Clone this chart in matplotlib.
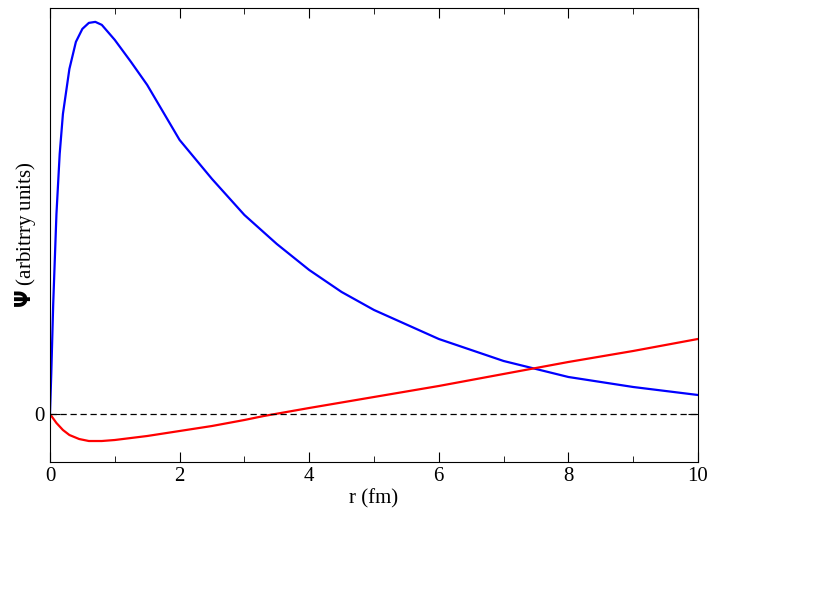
import matplotlib

matplotlib.use("Agg")

import matplotlib.pyplot as plt
from matplotlib.ticker import MultipleLocator

plt.rcParams["font.family"] = ["Liberation Serif", "DejaVu Serif"]

# values (arbitrary units)
r_blue = [0, 0.02, 0.05, 0.1, 0.15, 0.2, 0.3, 0.4, 0.5, 0.6, 0.7, 0.8, 1.0, 1.25, 1.5,
          2.0, 2.5, 3.0, 3.5, 4.0, 4.5, 5.0, 6.0, 7.0, 8.0, 9.0, 10.0]
psi_blue = [0, 40, 110, 200, 260, 300, 345, 372, 385, 391, 392, 389, 374, 352, 329,
            274, 235, 199, 170, 144, 122, 104, 75, 53, 37, 27, 19]
r_red = [0, 0.1, 0.2, 0.3, 0.45, 0.6, 0.8, 1.0, 1.5, 2.0, 2.5, 3.0, 3.3, 4.0, 5.0,
         6.0, 7.0, 8.0, 9.0, 10.0]
psi_red = [0, -9, -16, -21, -25, -27, -27, -26, -22, -17, -12, -6, -2, 6, 17,
           28, 40, 52, 63, 75]

fig = plt.figure(figsize=(8.37, 6.06), dpi=100)
axis = fig.add_axes([0.0597, 0.2376, 0.7742, 0.7494])
axis.plot(r_blue, psi_blue, color="#0000ff", linewidth=1.6)
axis.plot(r_red, psi_red, color="#ff0000", linewidth=1.6)
axis.axhline(0, color="black", linestyle=(0, (5, 3)), linewidth=0.9)

axis.set_xlim(0, 10)
axis.set_ylim(-48, 406)
axis.xaxis.set_major_locator(MultipleLocator(2))
axis.xaxis.set_minor_locator(MultipleLocator(1))
axis.set_yticks([0])
axis.tick_params(which="both", direction="in", top=True, right=True, labelsize=15)
axis.tick_params(which="major", length=7)
axis.tick_params(which="minor", length=4)
axis.set_xlabel("r (fm)", fontsize=15, labelpad=2)
axis.set_ylabel(r"$\mathbf{\Psi}$ (arbitrry units)", fontsize=15, labelpad=-2)

fig.savefig("out.png", dpi=100)
plt.close(fig)
